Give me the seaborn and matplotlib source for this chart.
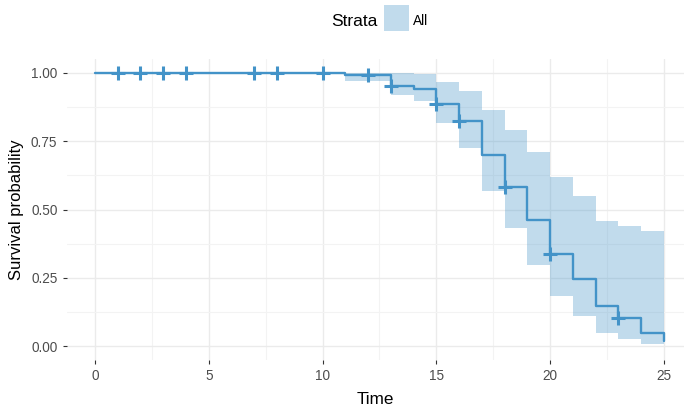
import numpy as np
import pandas as pd
import matplotlib
matplotlib.use("Agg")
import matplotlib.pyplot as plt
from matplotlib.patches import Rectangle
import seaborn as sns

# ---- data ----
times = [0, 11, 13, 14, 15, 16, 17, 18, 19, 20, 21, 22, 23, 24, 25]
surv = [1.0, 0.99, 0.953, 0.941, 0.887, 0.824, 0.699, 0.581, 0.461, 0.336, 0.245, 0.149, 0.105, 0.049, 0.018]
upper = [1.0, 1.0, 1.0, 0.995, 0.967, 0.932, 0.862, 0.789, 0.711, 0.62, 0.551, 0.458, 0.441, 0.42, 0.42]
lower = [1.0, 0.97, 0.917, 0.895, 0.816, 0.723, 0.566, 0.431, 0.297, 0.183, 0.11, 0.05, 0.028, 0.008, 0.008]
censor_times = [1, 2, 3, 4, 7, 8, 10, 12, 13, 15, 16, 18, 20, 23]
x_ticks = [0, 5, 10, 15, 20, 25]
y_ticks = [0.0, 0.25, 0.5, 0.75, 1.0]
y_tick_labels = ["0.00", "0.25", "0.50", "0.75", "1.00"]
strata_label = "All"

LINE = "#4393C8"
RIBBON_ALPHA = 0.33

sns.set_theme(style="white")
plt.rcParams["font.family"] = ["Liberation Sans", "DejaVu Sans"]

df = pd.DataFrame({"time": times, "surv": surv, "upper": upper, "lower": lower})
idx = np.searchsorted(np.array(times), np.array(censor_times), side="right") - 1
cens = pd.DataFrame({"time": censor_times, "surv": np.array(surv)[idx]})

fig = plt.figure(figsize=(6.84, 4.07), dpi=100)
W, H = 684, 407
left_px, right_px, top_px, bottom_px = 66.5, 684, 59, 360
ax = fig.add_axes([left_px / W, 1 - bottom_px / H, (right_px - left_px) / W, (bottom_px - top_px) / H])

ax.fill_between(df["time"], df["lower"], df["upper"], step="post", color=LINE,
                alpha=RIBBON_ALPHA, linewidth=0, zorder=2)
sns.lineplot(data=df, x="time", y="surv", drawstyle="steps-post", color=LINE,
             linewidth=1.7, ax=ax, zorder=3, sort=False)
sns.scatterplot(data=cens, x="time", y="surv", marker="+", s=95, color=LINE,
                linewidth=2.2, ax=ax, zorder=4)

ax.set_xlim(-1.25, 25.88)
ax.set_ylim(-0.05, 1.05)
ax.set_xticks(x_ticks)
ax.set_xticklabels([str(t) for t in x_ticks])
ax.set_yticks(y_ticks)
ax.set_yticklabels(y_tick_labels)
ax.set_xticks([2.5, 7.5, 12.5, 17.5, 22.5], minor=True)
ax.set_yticks([0.125, 0.375, 0.625, 0.875], minor=True)
ax.grid(True, which="major", color="#EBEBEB", linewidth=1.0, zorder=0)
ax.grid(True, which="minor", color="#F3F3F3", linewidth=0.8, zorder=0)
ax.set_axisbelow(True)
for s in ax.spines.values():
    s.set_visible(False)
ax.tick_params(axis="both", which="major", length=3.0, width=0.8, color="#333333",
               labelsize=9.8, labelcolor="#4D4D4D", pad=3.5, left=True, bottom=True)
ax.tick_params(axis="both", which="minor", length=0)
ax.set_xlabel("Time", fontsize=12.3, color="black", labelpad=6.5)
ax.set_ylabel("Survival probability", fontsize=12.0, color="black", labelpad=5)

# legend at top
fig.text(354 / W, 1 - 21 / H, "Strata", fontsize=12.5, ha="center", va="center", color="black")
fig.patches.append(Rectangle((384 / W, 1 - 31 / H), 25 / W, 26 / H, transform=fig.transFigure,
                             facecolor=LINE, alpha=RIBBON_ALPHA, edgecolor="none"))
fig.text(413 / W, 1 - 21 / H, strata_label, fontsize=9.8, ha="left", va="center", color="black")

fig.savefig("out.png", dpi=100, facecolor="white")
